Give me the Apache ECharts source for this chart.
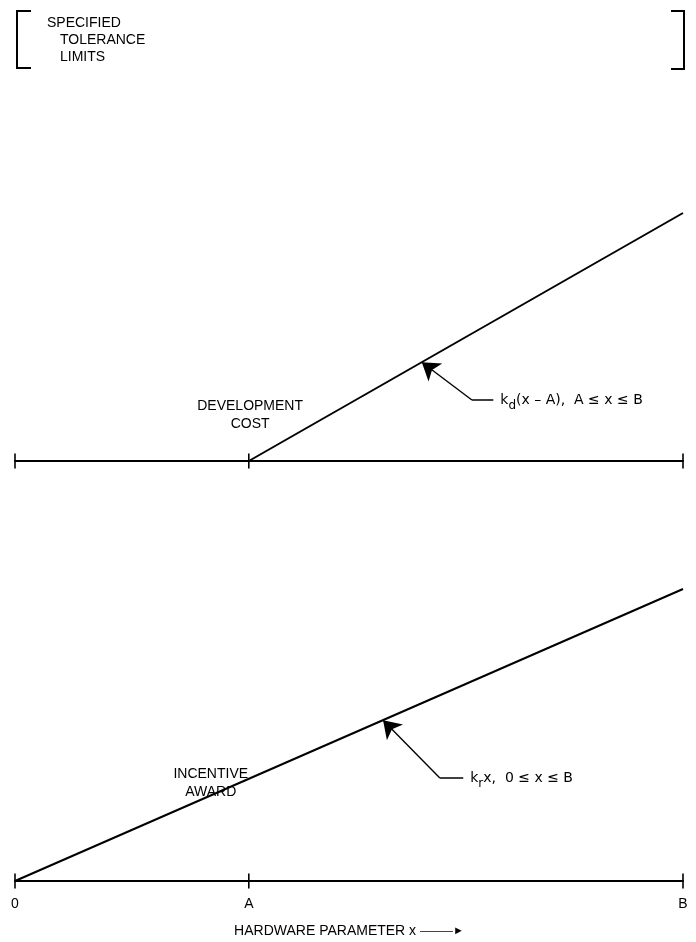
<!DOCTYPE html>
<html>
<head>
<meta charset="utf-8">
<script src="https://cdn.jsdelivr.net/npm/echarts@6/dist/echarts.min.js"></script>
<style>
  html, body { margin: 0; background: #fff; }
  #chart { width: 696px; height: 942px; }
</style>
</head>
<body>
<div id="chart"></div>
<script>
var A = 35
var B = 100
var xTicks = [0, A, B]
var tickLabels = ['0', 'A', 'B']

// development cost: zero until A, then rises to B
var costX = [A, B]
var costY = [0, 62]
// incentive award: rises from 0 to B
var awardX = [0, B]
var awardY = [0, 73]

// leader lines: text end, elbow, arrow tip (data units)
var costNote = [[71.6, 15.25], [68.4, 15.25], [60.9, 24.7]]
var awardNote = [[67.1, 25.75], [63.6, 25.75], [55.1, 40.2]]
var costName = [35.2, 11.5]
var awardName = [29.3, 24.5]

var ink = '#000'
var font = 'Liberation Sans'
var mathFont = 'DejaVu Sans'
var fs = 14

var chart = echarts.init(document.getElementById('chart'))

var pairs = function (xs, ys) {
  return xs.map(function (x, i) { return [x, ys[i]] })
}

var formulaRich = {
  t: { fontFamily: mathFont, fontSize: 14, color: ink, lineHeight: 16, verticalAlign: 'middle' },
  s: { fontFamily: mathFont, fontSize: 12, color: ink, lineHeight: 14, padding: [11, 0, 0, 0], verticalAlign: 'middle' }
}

var panel = function (idx, xs, ys, note, nameAt, nameText, formula) {
  return [
    {
      type: 'line',
      xAxisIndex: idx,
      yAxisIndex: idx,
      data: pairs(xs, ys),
      symbol: 'none',
      lineStyle: { color: ink, width: 2 },
      z: 3
    },
    {
      type: 'scatter',
      xAxisIndex: idx,
      yAxisIndex: idx,
      data: xTicks.map(function (x) { return [x, 0] }),
      symbol: 'rect',
      symbolSize: [1.6, 15],
      itemStyle: { color: ink, opacity: 1 },
      silent: true
    },
    {
      // horizontal part of the leader
      type: 'line',
      xAxisIndex: idx,
      yAxisIndex: idx,
      data: note.slice(0, 2),
      symbol: 'none',
      lineStyle: { color: ink, width: 1.4 },
      silent: true
    },
    {
      type: 'lines',
      coordinateSystem: 'cartesian2d',
      xAxisIndex: idx,
      yAxisIndex: idx,
      symbol: ['none', 'arrow'],
      symbolSize: [9, 17],
      lineStyle: { color: ink, width: 1.4, opacity: 1 },
      data: [{ coords: note.slice(1) }],
      silent: true
    },
    {
      type: 'scatter',
      xAxisIndex: idx,
      yAxisIndex: idx,
      symbolSize: 0,
      itemStyle: { opacity: 1 },
      silent: true,
      label: {
        show: true,
        color: ink,
        fontFamily: font,
        fontSize: fs
      },
      data: [
        {
          value: note[0],
          label: {
            position: 'right',
            distance: 7,
            formatter: formula,
            rich: formulaRich
          }
        },
        {
          value: nameAt,
          label: {
            position: 'inside',
            align: 'center',
            formatter: nameText,
            lineHeight: 18
          }
        }
      ]
    }
  ]
}

chart.setOption({
  backgroundColor: '#fff',
  animation: false,
  grid: [
    { left: 15, right: 13, top: 61, height: 400 },
    { left: 15, right: 13, top: 481, height: 400 }
  ],
  xAxis: [0, 1].map(function (i) {
    return {
      type: 'value',
      gridIndex: i,
      min: 0,
      max: B,
      axisLine: { show: true, onZero: false, lineStyle: { color: ink, width: 2 } },
      axisTick: { show: false },
      splitLine: { show: false },
      axisLabel: i === 1 ? {
        show: true,
        customValues: xTicks,
        margin: 16,
        fontFamily: font,
        fontSize: fs,
        color: ink,
        formatter: function (v) { return tickLabels[xTicks.indexOf(v)] }
      } : { show: false },
      name: i === 1 ? 'HARDWARE PARAMETER x {arr|———►}' : '',
      nameLocation: 'middle',
      nameGap: 43,
      nameTextStyle: {
        fontFamily: font,
        fontSize: fs,
        color: ink,
        rich: { arr: { fontSize: 11, color: ink } }
      }
    }
  }),
  yAxis: [0, 1].map(function (i) {
    return { type: 'value', gridIndex: i, min: 0, max: 100, show: false, splitLine: { show: false } }
  }),
  graphic: [
    { type: 'polyline', shape: { points: [[31, 11], [17, 11], [17, 68], [31, 68]] }, style: { stroke: ink, lineWidth: 2, fill: null } },
    { type: 'polyline', shape: { points: [[671, 11], [684, 11], [684, 69], [671, 69]] }, style: { stroke: ink, lineWidth: 2, fill: null } },
    { type: 'text', left: 47, top: 16, style: { text: 'SPECIFIED', font: fs + 'px "' + font + '"', fill: ink } },
    { type: 'text', left: 60, top: 33, style: { text: 'TOLERANCE', font: fs + 'px "' + font + '"', fill: ink } },
    { type: 'text', left: 60, top: 50, style: { text: 'LIMITS', font: fs + 'px "' + font + '"', fill: ink } }
  ],
  series: [].concat(
    panel(0, costX, costY, costNote, costName, 'DEVELOPMENT\nCOST', '{t|k}{s|d}{t|(x – A),  A ≤ x ≤ B}'),
    panel(1, awardX, awardY, awardNote, awardName, 'INCENTIVE\nAWARD', '{t|k}{s|r}{t|x,  0 ≤ x ≤ B}')
  )
})
</script>
</body>
</html>
